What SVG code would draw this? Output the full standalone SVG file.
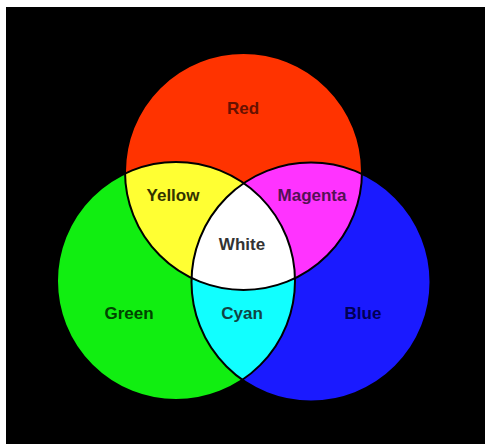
<svg xmlns="http://www.w3.org/2000/svg" width="485" height="444" viewBox="0 0 485 444">
<defs>
<clipPath id="cR"><circle cx="243.5" cy="171.5" r="118.5"/></clipPath>
<clipPath id="cG"><circle cx="176" cy="281" r="119"/></clipPath>
<clipPath id="cB"><circle cx="311" cy="282" r="119.5"/></clipPath>
<style>
.lbl{font-family:"Liberation Sans",Arial,sans-serif;font-weight:bold;font-size:17px;text-anchor:middle}
.ol{fill:none;stroke:#000;stroke-width:2}
</style>
</defs>
<rect x="0" y="0" width="485" height="444" fill="#fff"/>
<rect x="6" y="7" width="479" height="437" fill="#000"/>
<g id="red"><circle cx="243.5" cy="171.5" r="118.5" fill="#ff3300"/></g>
<g id="green"><circle cx="176" cy="281" r="119" fill="#11ee11"/></g>
<g id="blue"><circle cx="311" cy="282" r="119.5" fill="#1a1aff"/></g>
<g id="yellow" clip-path="url(#cG)"><circle cx="243.5" cy="171.5" r="118.5" fill="#ffff33"/></g>
<g id="magenta" clip-path="url(#cB)"><circle cx="243.5" cy="171.5" r="118.5" fill="#ff33ff"/></g>
<g id="cyan" clip-path="url(#cB)"><circle cx="176" cy="281" r="119" fill="#11ffff"/></g>
<g id="white" clip-path="url(#cB)"><g clip-path="url(#cG)"><circle cx="243.5" cy="171.5" r="118.5" fill="#ffffff"/></g></g>
<g id="outlines">
<circle class="ol" cx="243.5" cy="171.5" r="118.5"/>
<circle class="ol" cx="176" cy="281" r="119"/>
<circle class="ol" cx="311" cy="282" r="119.5"/>
</g>
<g id="labels">
<text class="lbl" x="243" y="114" fill="#661100">Red</text>
<text class="lbl" x="173" y="201" fill="#333300">Yellow</text>
<text class="lbl" x="312" y="201" fill="#551155">Magenta</text>
<text class="lbl" x="242" y="250" fill="#333333">White</text>
<text class="lbl" x="129" y="319" fill="#004400">Green</text>
<text class="lbl" x="242" y="319" fill="#114444">Cyan</text>
<text class="lbl" x="363" y="319" fill="#000055">Blue</text>
</g>
</svg>
